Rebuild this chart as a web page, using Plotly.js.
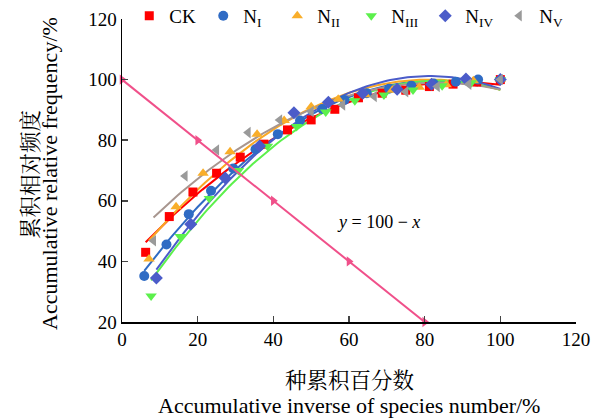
<!DOCTYPE html>
<html>
<head>
<meta charset="utf-8">
<script src="https://cdn.plot.ly/plotly-3.0.1.min.js"></script>
<style>html,body{margin:0;padding:0;background:#fff;}#chart{width:604px;height:418px;}</style>
</head>
<body>
<div id="chart"></div>
<script>
// Data
const seriesNames = ['CK', 'N<sub>I</sub>', 'N<sub>II</sub>', 'N<sub>III</sub>', 'N<sub>IV</sub>', 'N<sub>V</sub>'];

const xCK = [6.25,12.5,18.75,25,31.25,37.5,43.75,50,56.25,62.5,68.75,75,81.25,87.5,93.75,100];
const yCK = [43.0,54.8,62.9,69.1,74.4,78.7,83.4,86.7,90.2,94.0,95.5,96.5,97.7,98.5,99.2,100];

const xN1 = [5.88,11.76,17.65,23.53,29.41,35.29,41.18,47.06,52.94,58.82,64.71,70.59,76.47,82.35,88.24,94.12];
const yN1 = [35.2,45.6,55.6,63.3,70.7,77.0,82.0,86.5,90.3,93.3,95.5,97.0,98.0,98.7,99.3,100];

const xN2 = [7.14,14.29,21.43,28.57,35.71,42.86,50,57.14,64.29,71.43,78.57,85.71,92.86,100];
const yN2 = [40.8,58.0,69.1,76.2,82.0,86.5,91.0,93.5,95.0,96.5,97.5,98.3,99.6,100];

const xN3 = [7.69,15.38,23.08,30.77,38.46,46.15,53.85,61.54,69.23,76.92,84.62,92.31,100];
const yN3 = [28.6,48.2,60.8,70.0,78.0,84.5,89.3,93.0,94.9,96.6,98.0,99.0,100];

const xN4 = [9.09,18.18,27.27,36.36,45.45,54.55,63.64,72.73,81.82,90.91,100];
const yN4 = [34.5,52.3,67.5,78.1,89.1,92.5,95.5,96.8,98.5,100.2,100];

const xN5 = [8.33,16.67,25,33.33,41.67,50,58.33,66.67,75,83.33,91.67,100];
const yN5 = [46.8,68.2,76.8,82.5,86.7,89.5,91.6,94.4,96.0,97.7,98.5,100];

// reference line y = 100 - x
const xRef = [0,20,40,60,80];
const yRef = [100,80,60,40,20];

const xTitleCN = '种累积百分数';
const xTitleEN = 'Accumulative inverse of species number/%';
const yTitleCN = '累积相对频度';
const yTitleEN = 'Accumulative relative frequency/%';

const allX = [xCK, xN1, xN2, xN3, xN4, xN5];
const allY = [yCK, yN1, yN2, yN3, yN4, yN5];
const markerColors = ['#FF0000', '#2F6BC4', '#F9AE2A', '#5CF04C', '#4B5CC9', '#9A9A9A'];
const lineColors   = ['#FF0000', '#2F6BC4', '#F9A825', '#5CF04C', '#4B5CC9', '#A8968F'];
const symbols = ['square', 'circle', 'triangle-up', 'triangle-down', 'diamond', 'triangle-left'];
const sizes = [9, 10, 10, 10, 10, 10];

// quadratic least-squares fit derived from the data arrays
function quadFit(xs, ys) {
  let S = [0,0,0,0,0], T = [0,0,0];
  for (let i = 0; i < xs.length; i++) {
    let p = 1;
    for (let k = 0; k < 5; k++) { S[k] += p; if (k < 3) T[k] += p * ys[i]; p *= xs[i]; }
  }
  const A = [[S[0],S[1],S[2],T[0]],[S[1],S[2],S[3],T[1]],[S[2],S[3],S[4],T[2]]];
  for (let c = 0; c < 3; c++) {
    for (let r = c + 1; r < 3; r++) {
      const f = A[r][c] / A[c][c];
      for (let k = c; k < 4; k++) A[r][k] -= f * A[c][k];
    }
  }
  const b = [0,0,0];
  for (let r = 2; r >= 0; r--) {
    let s = A[r][3];
    for (let k = r + 1; k < 3; k++) s -= A[r][k] * b[k];
    b[r] = s / A[r][r];
  }
  return b;
}

const traces = [];
const font = 'Liberation Serif, Times New Roman, serif';
const cjk = 'Noto Serif CJK SC, Noto Sans CJK SC, serif';

allX.forEach((xs, i) => {
  const b = quadFit(xs, allY[i]);
  const x0 = xs[0], x1 = xs[xs.length - 1];
  const fx = [], fy = [];
  for (let j = 0; j <= 100; j++) {
    const x = x0 + (x1 - x0) * j / 100;
    fx.push(x); fy.push(b[0] + b[1] * x + b[2] * x * x);
  }
  traces.push({x: fx, y: fy, type: 'scatter', mode: 'lines', showlegend: false, hoverinfo: 'skip',
    line: {color: lineColors[i], width: 2}});
});

allX.forEach((xs, i) => {
  traces.push({x: xs, y: allY[i], type: 'scatter', mode: 'markers', name: seriesNames[i],
    marker: {symbol: symbols[i], size: sizes[i], color: markerColors[i]}, cliponaxis: false});
});

traces.push({x: xRef, y: yRef, type: 'scatter', mode: 'lines+markers', showlegend: false, cliponaxis: false,
  line: {color: '#F0508A', width: 2}, marker: {symbol: 'triangle-right', size: 9, color: '#F0508A'}});

const layout = {
  width: 604, height: 418,
  margin: {l: 122, r: 28, t: 19, b: 96, autoexpand: false},
  paper_bgcolor: '#fff', plot_bgcolor: '#fff',
  font: {family: font, size: 18, color: '#000'},
  showlegend: true,
  legend: {orientation: 'h', x: 0.016, xanchor: 'left', y: 1.01, yanchor: 'middle',
    entrywidth: 29, entrywidthmode: 'pixels', font: {family: font, size: 19, color: '#000'},
    itemwidth: 30, bgcolor: 'rgba(0,0,0,0)', tracegroupgap: 0},
  xaxis: {range: [0, 120], dtick: 20, tick0: 0, ticks: 'inside', ticklen: 6, tickwidth: 1.5,
    showline: true, linecolor: '#000', linewidth: 1.5, showgrid: false, zeroline: false,
    mirror: false, tickfont: {family: font, size: 19, color: '#000'}},
  yaxis: {range: [20, 120], dtick: 20, tick0: 20, ticks: 'inside', ticklen: 6, tickwidth: 1.5,
    showline: true, linecolor: '#000', linewidth: 1.5, showgrid: false, zeroline: false,
    mirror: false, tickfont: {family: font, size: 19, color: '#000'}},
  annotations: [
    {x: 67.7, y: 53, xref: 'x', yref: 'y', showarrow: false,
      text: '<i>y</i> = 100 − <i>x</i>', font: {family: font, size: 18, color: '#000'}},
    {x: 0.5, y: -0.188, xref: 'paper', yref: 'paper', xanchor: 'center', yanchor: 'middle', showarrow: false,
      text: xTitleCN, font: {family: cjk, size: 21.5, color: '#000'}},
    {x: 0.5, y: -0.274, xref: 'paper', yref: 'paper', xanchor: 'center', yanchor: 'middle', showarrow: false,
      text: xTitleEN, font: {family: font, size: 22, color: '#000'}},
    {x: -0.207, y: 0.485, xref: 'paper', yref: 'paper', xanchor: 'center', yanchor: 'middle', showarrow: false,
      textangle: -90, text: yTitleCN, font: {family: cjk, size: 21.5, color: '#000'}},
    {x: -0.1586, y: 0.492, xref: 'paper', yref: 'paper', xanchor: 'center', yanchor: 'middle', showarrow: false,
      textangle: -90, text: yTitleEN, font: {family: font, size: 22, color: '#000'}}
  ]
};

Plotly.newPlot('chart', traces, layout, {displayModeBar: false, staticPlot: true});
</script>
</body>
</html>
